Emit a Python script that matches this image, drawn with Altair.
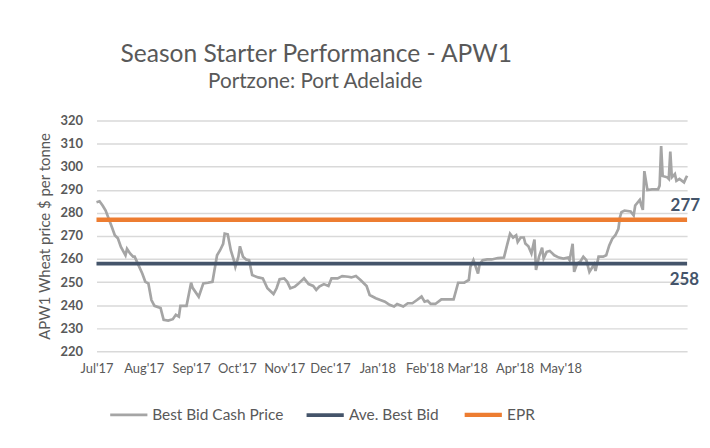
import altair as alt
import pandas as pd

START = "2017-07-01"
END_DAY = 387  # last day on the axis (days after START)

# days after 1 Jul 2017
day_offsets = [0, 2, 4, 6, 8, 10, 12, 14, 16, 19, 20, 22, 24, 25, 27, 30, 32, 34, 36, 38,
               42, 44, 47, 50, 52, 54, 55, 59, 62, 63, 67, 70, 73, 76, 79, 81, 83, 84, 86, 88,
               90, 91, 93, 94, 96, 98, 100, 102, 106, 109, 112, 116, 118, 120, 123, 125, 127, 130, 132, 136,
               139, 142, 144, 146, 149, 152, 154, 158, 161, 165, 167, 170, 173, 177, 179, 183, 186, 189, 192, 195,
               197, 201, 204, 207, 210, 213, 215, 217, 219, 222, 226, 230, 234, 237, 241, 244, 245, 247, 250, 251,
               253, 256, 259, 263, 267, 269, 271, 273, 275, 276, 278, 280, 281, 283, 285, 287, 288, 290, 292, 293,
               295, 297, 300, 303, 306, 309, 310, 312, 313, 315, 317, 319, 321, 323, 326, 327, 329, 332, 334, 336,
               338, 340, 342, 343, 344, 346, 350, 352, 353, 356, 357, 358, 359, 361, 364, 368, 369, 370, 371, 374,
               375, 376, 377, 379, 380, 382, 385, 386, 387]

best_bid_price = [284.6, 285.0, 283.2, 281.0, 277.5, 274.0, 270.3, 269.0, 265.2, 261.6, 264.4, 262.4, 261.0, 261.0, 258.1, 253.7, 250.1, 249.4, 242.2, 239.7,
                  238.7, 233.6, 233.3, 233.9, 235.8, 235.0, 239.7, 239.7, 249.7, 247.5, 243.6, 249.4, 249.7, 250.1, 261.6, 263.8, 266.6, 271.0, 270.7, 263.8,
                  259.5, 256.6, 261.0, 265.5, 261.0, 259.8, 259.5, 253.0, 252.0, 251.6, 247.3, 244.8, 247.3, 251.2, 251.6, 250.1, 247.3, 248.0, 249.1, 251.6,
                  249.1, 248.3, 246.6, 248.0, 249.1, 248.3, 251.6, 251.6, 252.6, 252.3, 252.0, 252.6, 250.9, 248.3, 244.4, 243.0, 242.2, 241.5, 240.1, 239.4,
                  240.5, 239.4, 240.8, 240.8, 242.2, 243.7, 241.5, 241.9, 240.5, 240.5, 242.5, 242.5, 242.5, 249.7, 249.7, 250.9, 256.6, 259.5, 253.7, 257.6,
                  259.5, 259.8, 259.8, 260.4, 260.6, 265.9, 271.0, 269.3, 270.3, 267.4, 269.3, 269.3, 266.7, 265.5, 262.4, 268.4, 255.2, 261.0, 264.9, 260.2,
                  263.1, 263.5, 261.6, 260.6, 260.2, 260.6, 259.5, 266.6, 254.4, 258.1, 258.8, 261.0, 259.5, 254.4, 257.6, 254.8, 261.0, 261.0, 261.6, 265.9,
                  268.8, 270.3, 273.1, 278.1, 280.3, 281.0, 280.6, 278.9, 283.2, 285.6, 283.2, 281.3, 298.1, 289.9, 290.2, 290.2, 291.8, 309.0, 296.0, 295.4,
                  294.7, 306.6, 295.4, 296.8, 293.9, 294.7, 293.2, 294.7, 296.1]

ave_best_bid = 258
epr = 277

series_names = ["Best Bid Cash Price", "Ave. Best Bid", "EPR"]
series_colors = ["#A5A5A5", "#44546A", "#ED7D31"]
series_widths = [2.7, 4.5, 4.5]

tick_months = [(2017, 7), (2017, 8), (2017, 9), (2017, 10), (2017, 11), (2017, 12),
               (2018, 1), (2018, 2), (2018, 3), (2018, 4), (2018, 5)]
y_ticks = list(range(220, 321, 10))

title_text = "Season Starter Performance - APW1"
subtitle_text = "Portzone: Port Adelaide"
y_title = "APW1 Wheat price $ per tonne"

FONT = "Lato"
GREY_TEXT = "#595959"

start = pd.Timestamp(START)


def to_date(d):
    return (start + pd.Timedelta(days=d)).strftime("%Y-%m-%d")


rows = []
for d, p in zip(day_offsets, best_bid_price):
    rows.append({"date": to_date(d), "price": p, "series": series_names[0]})
for d in (0, END_DAY):
    rows.append({"date": to_date(d), "price": ave_best_bid, "series": series_names[1]})
for d in (0, END_DAY):
    rows.append({"date": to_date(d), "price": epr, "series": series_names[2]})
df = pd.DataFrame(rows)

end_date = start + pd.Timedelta(days=END_DAY)
x_scale = alt.Scale(
    type="utc",
    domain=[alt.DateTime(year=2017, month=7, date=1, utc=True),
            alt.DateTime(year=end_date.year, month=end_date.month, date=end_date.day, utc=True)],
)
y_scale = alt.Scale(domain=[220, 320], nice=False, zero=False)

x_axis = alt.Axis(
    values=[alt.DateTime(year=y, month=m, date=1, utc=True) for y, m in tick_months],
    labelExpr="utcFormat(datum.value, \"%b'%y\")", title=None, grid=False, ticks=False,
    domain=False, labelColor=GREY_TEXT, labelFontSize=13, labelPadding=11, labelFont=FONT,
    labelBound=False, labelFlush=False, labelOverlap=False)
y_axis = alt.Axis(
    values=y_ticks, title=y_title, grid=True, gridColor="#D9D9D9",
    gridWidth=1.5, ticks=False, domain=False, labelColor=GREY_TEXT, labelFontSize=13,
    labelFontWeight="bold", labelPadding=14, labelFont=FONT, titleFont=FONT,
    labelOverlap=False,
    titleFontSize=15, titleFontWeight="normal", titleColor=GREY_TEXT,
    titleX=-52, titleY=116, titleAngle=-90, titleAlign="center", titleBaseline="middle")

legend_kw = dict(title=None, orient="none", direction="horizontal",
                 legendX=12, legendY=275, symbolType="stroke",
                 symbolSize=1400, labelFontSize=15.5, labelFont=FONT,
                 labelColor=GREY_TEXT, columnPadding=16, labelOffset=3,
                 padding=0)

lines = alt.Chart(df).mark_line(strokeCap="butt").encode(
    x=alt.X("date:T", scale=x_scale, axis=x_axis),
    y=alt.Y("price:Q", scale=y_scale, axis=y_axis),
    color=alt.Color("series:N", scale=alt.Scale(domain=series_names, range=series_colors),
                    legend=alt.Legend(**legend_kw)),
    strokeWidth=alt.StrokeWidth("series:N", scale=alt.Scale(domain=series_names, range=series_widths),
                                legend=alt.Legend(**legend_kw)),
    detail="series:N",
)

label_df = pd.DataFrame({
    "date": [to_date(END_DAY), to_date(END_DAY)],
    "price": [epr, ave_best_bid],
    "label": [str(epr), str(ave_best_bid)],
})

label_epr = alt.Chart(label_df.iloc[[0]]).mark_text(
    align="right", baseline="middle", dx=13, dy=-14, fontSize=17, fontWeight="bold",
    font=FONT, color="#44546A").encode(
    x=alt.X("date:T", scale=x_scale, axis=x_axis),
    y=alt.Y("price:Q", scale=y_scale, axis=y_axis), text="label:N")
label_avg = alt.Chart(label_df.iloc[[1]]).mark_text(
    align="right", baseline="middle", dx=12, dy=17, fontSize=17, fontWeight="bold",
    font=FONT, color="#44546A").encode(
    x=alt.X("date:T", scale=x_scale, axis=x_axis),
    y=alt.Y("price:Q", scale=y_scale, axis=y_axis), text="label:N")

title_df = pd.DataFrame({"t": [title_text]})
subtitle_df = pd.DataFrame({"t": [subtitle_text]})
title_mark = alt.Chart(title_df).mark_text(
    align="center", baseline="alphabetic", fontSize=24.7, font=FONT, color=GREY_TEXT).encode(
    text="t:N", x=alt.value(221), y=alt.value(-59))
subtitle_mark = alt.Chart(subtitle_df).mark_text(
    align="center", baseline="alphabetic", fontSize=20.8, font=FONT, color=GREY_TEXT).encode(
    text="t:N", x=alt.value(220), y=alt.value(-33))

chart = alt.layer(lines, label_epr, label_avg, title_mark, subtitle_mark).properties(
    width=594, height=232,
    autosize=alt.AutoSizeParams(type="none"),
    padding={"left": 89, "top": 112, "right": 15, "bottom": 80},
).configure(font=FONT, view=alt.ViewConfig(stroke=None))

chart.save("out.html", embed_options={"renderer": "svg", "actions": False})
